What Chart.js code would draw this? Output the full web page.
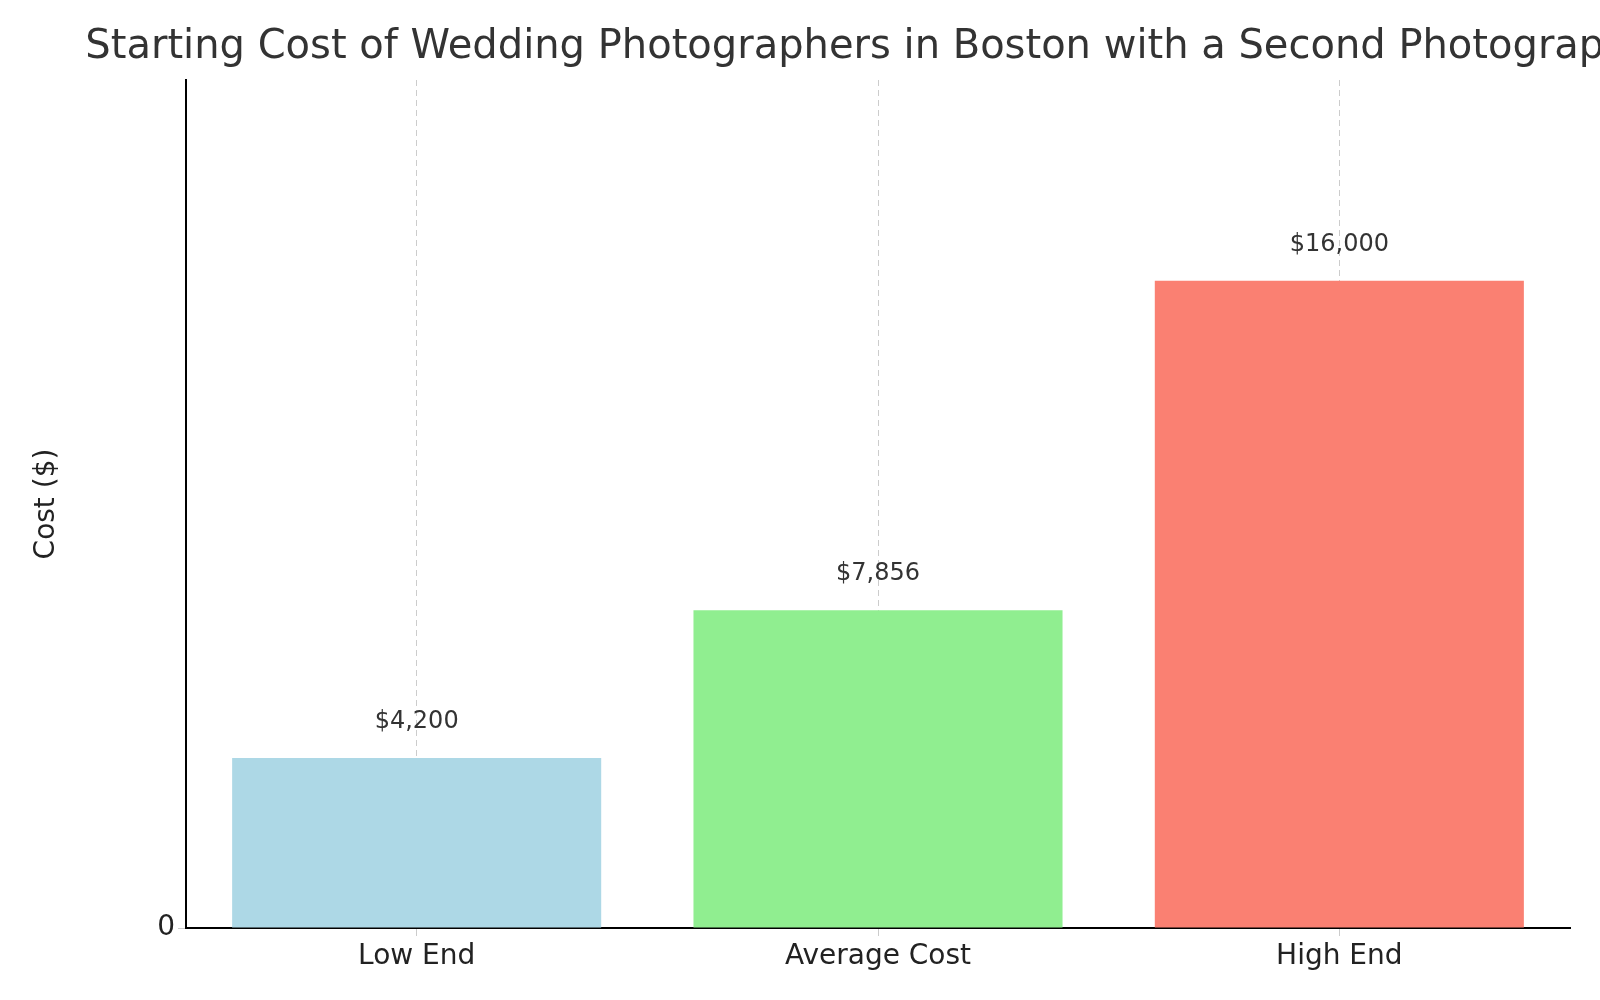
<!DOCTYPE html>
<html><head><meta charset="utf-8">
<script src="https://cdn.jsdelivr.net/npm/chart.js@4"></script>
<style>html,body{margin:0;padding:0;background:#fff}#w{width:1600px;height:1000px}</style>
</head><body><div id="w"><canvas id="c"></canvas></div>
<script>
const categories = ["Low End", "Average Cost", "High End"];
const costs = [4200, 7856, 16000];
const barColors = ["#add8e6", "#90ee90", "#fa8072"];
const titleText = "Starting Cost of Wedding Photographers in Boston with a Second Photographer";
const FONT = "'DejaVu Sans', sans-serif";

const extras = {
  id: 'extras',
  afterDatasetsDraw(chart) {
    const ctx = chart.ctx, meta = chart.getDatasetMeta(0);
    ctx.save();
    ctx.fillStyle = '#333';
    ctx.font = "24px " + FONT;
    ctx.textAlign = 'center';
    ctx.textBaseline = 'middle';
    meta.data.forEach((b, i) => {
      ctx.fillText('$' + costs[i].toLocaleString('en-US'), b.x, b.y - 36);
    });
    const a = chart.chartArea;
    ctx.font = "40px " + FONT;
    ctx.fillText(titleText, (a.left + a.right) / 2, 48);
    ctx.restore();
  }
};

new Chart(document.getElementById('c'), {
  type: 'bar',
  data: { labels: categories, datasets: [{ data: costs, backgroundColor: barColors, categoryPercentage: 0.8, barPercentage: 1 }] },
  options: {
    responsive: true, maintainAspectRatio: false, animation: false,
    layout: { padding: { top: 80, right: 30, left: 26, bottom: 0 } },
    plugins: { legend: { display: false }, tooltip: { enabled: false } },
    scales: {
      x: {
        grid: { offset: false, color: '#ccc', tickLength: 8 },
        border: { color: '#000', width: 2, dash: [6, 4] },
        ticks: { color: '#222', font: { size: 28, family: FONT }, padding: 4 },
        afterFit: s => { s.height = 72; }
      },
      y: {
        min: 0, max: 20960,
        grid: { tickLength: 8, color: c => (c.tick && c.tick.value % 2500 === 0) ? '#ccc' : 'rgba(0,0,0,0)' },
        border: { color: '#000', width: 2, dash: [6, 4] },
        ticks: { stepSize: 2500, color: '#222', font: { size: 28, family: FONT },
                 callback: v => (v % 2500 === 0 ? String(v) : '') },
        title: { display: true, text: 'Cost ($)', color: '#222', font: { size: 28, family: FONT } },
        afterFit: s => { s.width = 160; }
      }
    }
  },
  plugins: [extras]
});
</script></body></html>
